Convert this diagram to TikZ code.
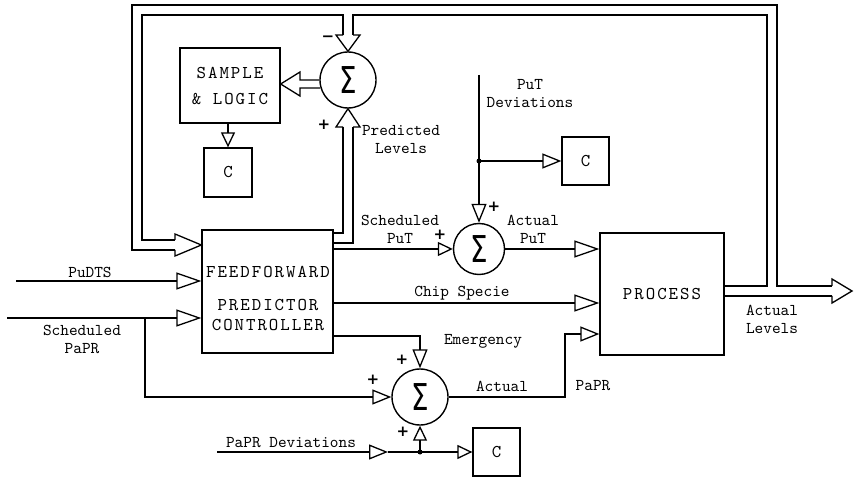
\documentclass[tikz,border=0pt]{standalone}
\usepackage{fontspec}
\usetikzlibrary{arrows.meta}
\newfontfamily\twfont{lmmono10-regular.otf}
\newfontfamily\bxfont{lmmono10-regular.otf}[LetterSpace=11]
\newfontfamily\symfont{DejaVu Sans}
\tikzset{
  ln/.style={line width=1.3pt, line join=miter},
  blk/.style={draw, line width=1.3pt, rectangle, inner sep=0pt, align=center,
    font=\bxfont\fontsize{18}{20}\selectfont},
  sumnode/.style={draw, circle, line width=1.4pt, minimum size=56pt, inner sep=0pt,
    font=\symfont\fontsize{37}{37}\selectfont},
  lab/.style={font=\twfont\fontsize{16.5}{18}\selectfont, align=center, inner sep=0pt},
  sgn/.style={font=\symfont\bfseries\fontsize{15}{15}\selectfont, inner sep=0pt},
  arrA/.style={-{Triangle[open,length=25pt,width=17pt]}},
  arrB/.style={-{Triangle[open,length=19pt,width=15pt]}},
  arrC/.style={-{Triangle[open,length=15pt,width=14pt]}},
}
\newcommand{\sig}{\scalebox{0.75}[1]{Σ}}
\begin{document}
\begin{tikzpicture}[x=1pt,y=-1pt]
\useasboundingbox (0,0) rectangle (854,478);

% blocks
\node[blk, minimum width=100pt, minimum height=75pt] (SL) at (230,85.5) {SAMPLE\\[6pt]\& LOGIC};
\node[blk, minimum width=48pt, minimum height=49pt] (C1) at (228,172.5) {C};
\node[sumnode] (S1) at (348,80) {\sig};
\node[blk, minimum width=131pt, minimum height=123pt] (FF) at (267.5,291.5) {};
\node[blk, draw=none] (FFtext) at (268,298) {FEEDFORWARD\\[13pt]PREDICTOR\\CONTROLLER};
\node[blk, minimum width=47pt, minimum height=48pt] (C2) at (585.5,161) {C};
\node[sumnode, minimum size=51pt] (S2) at (479,249) {\sig};
\node[blk, minimum width=124pt, minimum height=122pt] (PR) at (662,294) {PROCESS};
\node[sumnode] (S3) at (420,397) {\sig};
\node[blk, minimum width=47pt, minimum height=48pt] (C3) at (496.5,452) {C};

% free ends and junctions
\coordinate (pudts) at (16,281);
\coordinate (papr) at (7,318);
\coordinate (j1) at (145,318);
\coordinate (putdev) at (479,75);
\coordinate (d1) at (479,161);
\coordinate (paprdev) at (217,452);
\coordinate (m1) at (388,452);
\coordinate (d2) at (420,452);

% single-line connectors
\draw[ln,arrA] (pudts) -- (pudts -| FF.west);
\draw[ln,arrA] (papr) -- (papr -| FF.west);
\draw[ln,arrB] (j1) -- (145,397) -- (S3.west);
\draw[ln,arrC] (SL.south -| C1.north) -- (C1.north);
\draw[ln,arrC] (FF.east |- S2.west) -- (S2.west);
\draw[ln,arrA] (S2.east) -- (PR.west |- S2.east);
\draw[ln,arrB] (putdev) -- (S2.north);
\fill (d1) circle (2.5pt);
\draw[ln,arrB] (d1) -- (C2.west |- d1);
\draw[ln,arrA] (FF.east |- 0,303) -- (PR.west |- 0,303);
\draw[ln,arrB] (FF.east |- 0,336) -- (S3.north |- 0,336) -- (S3.north);
\draw[ln,arrB] (S3.east) -- (565,397) -- (565,334) -- (PR.west |- 0,334);
\draw[ln,arrB] (paprdev) -- (m1);
\draw[ln,arrC] (m1) -- (C3.west |- m1);
\fill (d2) circle (2.5pt);
\draw[ln,arrC] (d2) -- (S3.south);

% double-line (band) connectors
\draw[ln] (175,250) -- (132,250) -- (132,5) -- (777,5) -- (777,286) -- (832,286);
\draw[ln] (175,240) -- (142,240) -- (142,15) -- (343,15) -- (343,35);
\draw[ln] (353,35) -- (353,15) -- (767,15) -- (767,286) -- (PR.east |- 0,286);
\draw[ln] (PR.east |- 0,296) -- (832,296);
% heads of bands
\draw[ln] (175,240) -- (175,234) -- (FF.west |- 0,245) -- (175,256) -- (175,250);
\draw[ln] (343,35) -- (336,35) -- (S1.north) -- (360,35) -- (353,35);
\draw[ln] (832,286) -- (832,279) -- (852,291) -- (832,303) -- (832,296);
% predicted levels band
\draw[ln] (FF.east |- 0,233) -- (343,233) -- (343,127);
\draw[ln] (FF.east |- 0,243) -- (353,243) -- (353,127);
\draw[ln] (343,127) -- (336,127) -- (S1.south) -- (360,127) -- (353,127);
% sigma to sample & logic band
\draw[ln] (S1.west) -- (300,80) -- (300,72) -- (SL.east |- 0,84) -- (300,96) -- (300,88) -- (S1.196.6);

% signs
\node[sgn] (sgA) at (328,39) {−};
\node[sgn] (sgB) at (324,125) {+};
\node[sgn] (sgC) at (494,207) {+};
\node[sgn] (sgD) at (440,235) {+};
\node[sgn] (sgE) at (402,360) {+};
\node[sgn] (sgF) at (373,380) {+};
\node[sgn] (sgG) at (403,432) {+};

% labels
\node[lab] (lPuDTS) at (90,272) {PuDTS};
\node[lab] (lSchPaPR) at (82,339) {Scheduled\\PaPR};
\node[lab] (lPred) at (401,140) {Predicted\\Levels};
\node[lab] (lPuTdev) at (530,94) {PuT\\Deviations};
\node[lab] (lSchPuT) at (400,229) {Scheduled\\PuT};
\node[lab] (lActPuT) at (533,229) {Actual\\PuT};
\node[lab] (lChip) at (462,293) {Chip Specie};
\node[lab] (lEmerg) at (483,341) {Emergency};
\node[lab] (lAct) at (502,386) {Actual};
\node[lab] (lPaPR) at (593,386) {PaPR};
\node[lab] (lPaPRdev) at (291,443) {PaPR Deviations};
\node[lab] (lActLev) at (772,319) {Actual\\Levels};
\end{tikzpicture}
\end{document}
